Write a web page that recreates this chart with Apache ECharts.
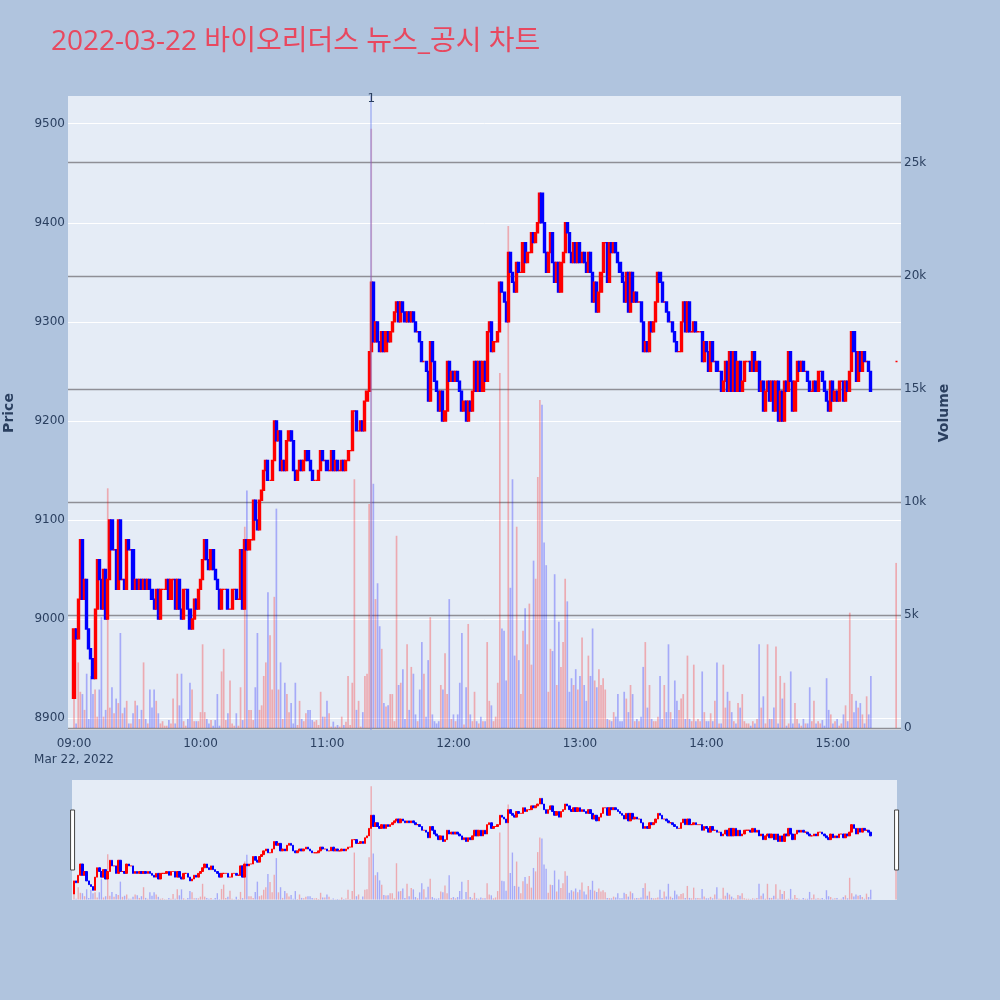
<!DOCTYPE html>
<html>
<head>
<meta charset="utf-8">
<title>2022-03-22 바이오리더스 뉴스_공시 차트</title>
<script src="https://cdn.jsdelivr.net/npm/echarts@6/dist/echarts.min.js"></script>
<style>
  html, body { margin: 0; padding: 0; background: #b0c4de; }
  #chart { width: 1000px; height: 1000px; }
</style>
</head>
<body>
<div id="chart"></div>
<script>
// one-minute bars from 09:00; each bar opens at the previous bar's close
var sessionDay = [2022, 2, 22]
var firstTime = '09:00'
var firstOpen = 8920
var closes = [
  8990, 8980, 9020, 9080, 9020, 9040, 8990, 8970, 8960, 8940,
  9010, 9060, 9040, 9010, 9050, 9000, 9040, 9100, 9070, 9070,
  9030, 9100, 9040, 9040, 9030, 9080, 9070, 9070, 9030, 9040,
  9030, 9040, 9030, 9040, 9030, 9040, 9030, 9020, 9010, 9030,
  9000, 9030, 9030, 9030, 9040, 9020, 9040, 9040, 9010, 9040,
  9010, 9000, 9030, 9030, 9010, 8990, 9000, 9020, 9010, 9030,
  9040, 9060, 9080, 9060, 9050, 9070, 9050, 9040, 9030, 9010,
  9030, 9030, 9030, 9010, 9010, 9030, 9030, 9020, 9020, 9070,
  9010, 9080, 9070, 9080, 9080, 9120, 9100, 9090, 9120, 9130,
  9150, 9160, 9140, 9140, 9160, 9200, 9180, 9190, 9150, 9160,
  9150, 9180, 9190, 9180, 9150, 9140, 9150, 9160, 9150, 9160,
  9170, 9160, 9150, 9140, 9140, 9140, 9150, 9170, 9160, 9160,
  9150, 9150, 9170, 9150, 9160, 9150, 9150, 9160, 9150, 9160,
  9170, 9170, 9210, 9210, 9190, 9190, 9200, 9190, 9220, 9230,
  9270, 9340, 9280, 9300, 9280, 9270, 9290, 9270, 9290, 9280,
  9290, 9300, 9310, 9320, 9300, 9320, 9310, 9300, 9310, 9300,
  9310, 9300, 9290, 9290, 9280, 9260, 9260, 9250, 9220, 9280,
  9260, 9240, 9230, 9210, 9230, 9200, 9210, 9260, 9240, 9250,
  9240, 9250, 9240, 9230, 9210, 9220, 9200, 9220, 9210, 9230,
  9260, 9230, 9260, 9230, 9260, 9240, 9290, 9300, 9270, 9280,
  9280, 9290, 9340, 9330, 9320, 9300, 9370, 9350, 9340, 9330,
  9360, 9350, 9350, 9380, 9360, 9370, 9370, 9390, 9380, 9390,
  9400, 9430, 9400, 9370, 9350, 9370, 9390, 9360, 9340, 9360,
  9330, 9360, 9370, 9400, 9390, 9370, 9360, 9380, 9360, 9380,
  9360, 9370, 9360, 9350, 9370, 9350, 9320, 9340, 9310, 9330,
  9350, 9380, 9380, 9340, 9380, 9370, 9380, 9370, 9360, 9350,
  9340, 9320, 9350, 9310, 9350, 9320, 9330, 9320, 9320, 9300,
  9270, 9280, 9270, 9300, 9290, 9300, 9320, 9350, 9340, 9320,
  9320, 9310, 9300, 9300, 9290, 9280, 9270, 9270, 9300, 9320,
  9290, 9320, 9290, 9290, 9300, 9290, 9290, 9290, 9260, 9280,
  9270, 9250, 9280, 9260, 9260, 9250, 9250, 9230, 9240, 9260,
  9230, 9270, 9230, 9270, 9230, 9260, 9230, 9240, 9260, 9260,
  9260, 9250, 9270, 9250, 9260, 9230, 9240, 9210, 9230, 9240,
  9220, 9240, 9210, 9240, 9200, 9230, 9200, 9240, 9230, 9270,
  9240, 9210, 9240, 9260, 9250, 9260, 9250, 9250, 9240, 9230,
  9230, 9240, 9230, 9250, 9250, 9240, 9230, 9220, 9210, 9240,
  9220, 9230, 9220, 9240, 9240, 9220, 9240, 9230, 9250, 9290,
  9270, 9240, 9270, 9250, 9270, 9260, 9260, 9250, 9230
]
var volumes = [
  1300, 200, 2900, 1600, 1500, 800, 2400, 400, 2300, 1500,
  1700, 500, 1700, 4900, 500, 800, 10600, 900, 1800, 650,
  1300, 1100, 4200, 650, 900, 1200, 200, 200, 650, 1200,
  1000, 400, 800, 2900, 400, 200, 1700, 900, 1700, 1200,
  650, 200, 300, 100, 100, 350, 200, 1300, 200, 2400,
  1000, 2400, 300, 100, 400, 2000, 1700, 300, 300, 300,
  700, 3700, 700, 400, 200, 350, 100, 350, 1500, 100,
  2500, 3500, 350, 650, 2100, 200, 100, 650, 100, 1800,
  350, 8900, 10500, 800, 800, 350, 1800, 4200, 800, 1000,
  2300, 2900, 6000, 4100, 1700, 5800, 9700, 1700, 2900, 400,
  2000, 1500, 700, 1100, 200, 2000, 130, 1200, 400, 300,
  650, 800, 800, 350, 280, 350, 130, 1600, 500, 500,
  1200, 650, 60, 280, 60, 130, 60, 500, 130, 280,
  2300, 130, 2000, 11000, 800, 1200, 60, 700, 2300, 2400,
  9900, 26500, 10800, 5700, 6400, 4500, 3500, 1100, 950, 1000,
  1500, 1500, 300, 8500, 1900, 2000, 2600, 400, 3700, 800,
  2700, 2400, 600, 300, 1700, 3800, 2400, 500, 3000, 4900,
  600, 300, 200, 300, 1900, 1700, 3300, 1500, 5700, 400,
  600, 300, 600, 2000, 4200, 150, 1800, 4600, 600, 300,
  1600, 300, 200, 500, 300, 300, 3800, 1200, 1000, 300,
  500, 2000, 15700, 4400, 4300, 2100, 22200, 6200, 11000, 3200,
  8900, 3000, 1500, 4300, 5300, 3700, 5500, 2800, 7400, 6600,
  11100, 14500, 14300, 8200, 7200, 1600, 3500, 3400, 6800, 1900,
  4700, 2700, 3800, 6600, 5600, 1600, 2200, 1900, 2600, 1700,
  2300, 4000, 1900, 1200, 3200, 2300, 4400, 2100, 1800, 2600,
  1900, 2200, 1700, 400, 350, 300, 700, 500, 1500, 300,
  300, 1600, 1300, 700, 1900, 1500, 300, 400, 300, 500,
  2700, 3800, 900, 1900, 400, 300, 300, 500, 2300, 400,
  1900, 700, 3700, 700, 400, 2100, 1200, 800, 1300, 1500,
  400, 3200, 400, 300, 2800, 300, 400, 300, 2500, 700,
  300, 300, 650, 300, 1200, 2900, 200, 200, 2800, 900,
  1600, 1200, 700, 300, 200, 1100, 900, 1500, 300, 200,
  200, 100, 300, 200, 400, 3700, 900, 1400, 200, 3700,
  400, 400, 900, 3600, 200, 2300, 1300, 2000, 100, 200,
  2500, 200, 1100, 400, 200, 100, 400, 200, 200, 1800,
  300, 1200, 200, 300, 200, 350, 100, 2200, 800, 600,
  200, 300, 400, 100, 200, 600, 1000, 300, 5100, 1500,
  700, 1200, 900, 1100, 600, 200, 1400, 600, 2300
]
// closing auction print
var auctionTime = '15:30'
var auctionPrice = 9260
var auctionVolume = 7300
// news / disclosure markers
var newsTimes = ['11:21']
var newsLabels = ['1']
var priceRange = { min: 8888, max: 9528 }
var volumeRange = { min: -90, max: 27950 }

var upColor = '#ff0000'
var downColor = '#0000ff'
var upVolume = 'rgba(255,0,0,0.28)'
var downVolume = 'rgba(0,0,255,0.28)'
var textColor = '#2a3f5f'
var axisFont = "'DejaVu Sans', Verdana, sans-serif"
var titleFont = "'Open Sans', 'Noto Sans CJK KR', sans-serif"

function toTime(hhmm) {
  var p = hhmm.split(':')
  return new Date(sessionDay[0], sessionDay[1], sessionDay[2], +p[0], +p[1]).getTime()
}

var candles = []
var volumeBars = []
var t0 = toTime(firstTime)
for (var i = 0; i < closes.length; i++) {
  var o = i === 0 ? firstOpen : closes[i - 1]
  var c = closes[i]
  var t = t0 + i * 60000
  candles.push([t, o, c, Math.min(o, c), Math.max(o, c)])
  volumeBars.push({ value: [t, volumes[i]], itemStyle: { color: c >= o ? upVolume : downVolume } })
}
var tA = toTime(auctionTime)
candles.push([tA, auctionPrice, auctionPrice, auctionPrice, auctionPrice])
volumeBars.push({ value: [tA, auctionVolume], itemStyle: { color: upVolume } })

var minute = 60000
var mainX = { min: t0 - 2.85 * minute, max: tA + 2.3 * minute }
var miniX = { min: t0 - 0.95 * minute, max: tA + 0.47 * minute }

var chart = echarts.init(document.getElementById('chart'))

var option = {
  animation: false,
  backgroundColor: '#b0c4de',
  title: {
    text: '2022-03-22 바이오리더스 뉴스_공시 차트',
    left: 46,
    top: 23,
    textStyle: { color: '#e8485f', fontSize: 28, fontWeight: 'normal', fontFamily: titleFont },
  },
  grid: [
    { left: 68, top: 96, width: 833, height: 634, show: true, backgroundColor: '#e5ecf6', borderWidth: 0, outerBoundsMode: 'none' },
    { left: 72, top: 780, width: 825, height: 120, show: true, backgroundColor: '#e5ecf6', borderWidth: 0, outerBoundsMode: 'none' },
  ],
  xAxis: [
    {
      // visible time axis, carries the price candles
      type: 'time',
      gridIndex: 0,
      min: mainX.min,
      max: mainX.max,
      minInterval: 3600000,
      maxInterval: 3600000,
      axisLine: { show: false },
      axisTick: { show: false },
      splitLine: { show: false },
      axisLabel: {
        color: textColor,
        fontFamily: axisFont,
        fontSize: 12,
        margin: 6,
        lineHeight: 16,
        formatter: function (v) {
          var d = new Date(v)
          var s = ('0' + d.getHours()).slice(-2) + ':' + ('0' + d.getMinutes()).slice(-2)
          return d.getHours() === 9 && d.getMinutes() === 0 ? s + '\nMar 22, 2022' : s
        },
      },
    },
    // same span as a plain value axis, for the volume bars
    { type: 'value', gridIndex: 0, min: mainX.min, max: mainX.max, show: false, splitLine: { show: false } },
    { type: 'value', gridIndex: 1, min: miniX.min, max: miniX.max, show: false, splitLine: { show: false } },
  ],
  yAxis: [
    {
      type: 'value',
      gridIndex: 0,
      position: 'left',
      min: priceRange.min,
      max: priceRange.max,
      splitNumber: 6,
      name: 'Price',
      nameLocation: 'middle',
      nameGap: 52,
      nameTextStyle: { color: textColor, fontSize: 14, fontWeight: 'bold', fontFamily: axisFont },
      axisLine: { show: false },
      axisTick: { show: false },
      axisLabel: {
        color: textColor,
        fontFamily: axisFont,
        fontSize: 12,
        margin: 3,
        showMinLabel: false,
        showMaxLabel: false,
        formatter: function (v) { return String(v) },
      },
      splitLine: { showMinLine: false, showMaxLine: false, lineStyle: { color: '#ffffff', width: 1 } },
    },
    {
      type: 'value',
      gridIndex: 0,
      position: 'right',
      min: volumeRange.min,
      max: volumeRange.max,
      splitNumber: 6,
      name: 'Volume',
      nameLocation: 'middle',
      nameGap: 36,
      nameTextStyle: { color: textColor, fontSize: 14, fontWeight: 'bold', fontFamily: axisFont },
      axisLine: { show: false },
      axisTick: { show: false },
      axisLabel: {
        color: textColor,
        fontFamily: axisFont,
        fontSize: 12,
        margin: 3,
        showMinLabel: false,
        showMaxLabel: false,
        formatter: function (v) { return v === 0 ? '0' : v / 1000 + 'k' },
      },
      splitLine: { showMinLine: false, showMaxLine: false, lineStyle: { color: '#8f8f96', width: 1.3 } },
    },
    { type: 'value', gridIndex: 1, min: priceRange.min, max: priceRange.max, show: false, splitLine: { show: false } },
    { type: 'value', gridIndex: 1, min: volumeRange.min, max: volumeRange.max, show: false, splitLine: { show: false } },
  ],
  dataZoom: [
    {
      type: 'slider',
      xAxisIndex: 2,
      filterMode: 'none',
      start: 0,
      end: 100,
      zoomLock: true,
      left: 71,
      right: 103,
      top: 780,
      height: 120,
      backgroundColor: 'rgba(0,0,0,0)',
      fillerColor: 'rgba(0,0,0,0)',
      borderColor: 'rgba(0,0,0,0)',
      showDetail: false,
      showDataShadow: false,
      brushSelect: false,
      moveHandleSize: 0,
      handleIcon: 'path://M0,0 L4,0 L4,60 L0,60 Z',
      handleSize: '50%',
      handleStyle: { color: '#ffffff', borderColor: '#444444', borderWidth: 1 },
    },
  ],
  series: [
    {
      name: 'Volume',
      type: 'bar',
      xAxisIndex: 1,
      yAxisIndex: 1,
      barWidth: 1.7,
      data: volumeBars,
      markLine: {
        silent: true,
        symbol: 'none',
        lineStyle: { color: 'rgba(110,130,240,0.4)', width: 2, type: 'solid' },
        label: { show: true, position: 'end', distance: -9, color: textColor, fontSize: 12, fontFamily: axisFont },
        data: newsTimes.map(function (s, k) {
          return { xAxis: toTime(s), label: { formatter: newsLabels[k] } }
        }),
      },
    },
    {
      name: 'Price',
      type: 'candlestick',
      xAxisIndex: 0,
      yAxisIndex: 0,
      barWidth: 2.6,
      data: candles,
      itemStyle: { color: upColor, color0: downColor, borderColor: upColor, borderColor0: downColor, borderWidth: 1.4 },
    },
    {
      type: 'bar',
      xAxisIndex: 2,
      yAxisIndex: 3,
      barWidth: 1.4,
      data: volumeBars,
    },
    {
      type: 'candlestick',
      xAxisIndex: 2,
      yAxisIndex: 2,
      barWidth: 2,
      data: candles,
      itemStyle: { color: upColor, color0: downColor, borderColor: upColor, borderColor0: downColor, borderWidth: 1 },
    },
  ],
}

chart.setOption(option)
</script>
</body>
</html>
